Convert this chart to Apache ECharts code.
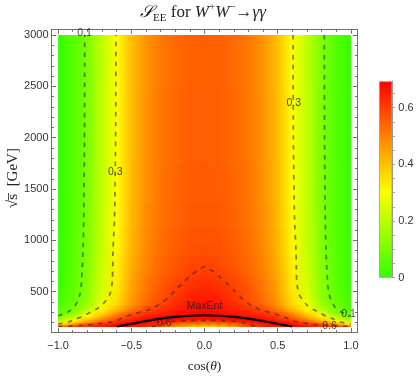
<!DOCTYPE html>
<html>
<head>
<meta charset="utf-8">
<title>S_EE for W+W- to gamma gamma</title>
<script src="https://cdn.jsdelivr.net/npm/echarts@6/dist/echarts.min.js"></script>
<style>
  html, body { margin: 0; padding: 0; background: #fff; }
  #chart { width: 420px; height: 377px; }
</style>
</head>
<body>
<div id="chart"></div>
<script>
// cos(theta) samples for the right half; the left half is the mirror image
const cosHalf = [0, 0.1, 0.2, 0.3, 0.4, 0.5, 0.6, 0.7, 0.8, 0.9, 1.0];

// sqrt(s) rows [GeV]
const sqrtS = [161, 170, 180, 195, 210, 225, 240, 255, 270, 280, 300, 325, 350, 400, 450,
  500, 550, 600, 650, 700, 750, 800, 900, 1000, 1250, 1500, 2000, 3000];

// S_EE, one row per sqrtS entry, columns follow cosHalf
const entropy = [
  [0.350, 0.370, 0.430, 0.520, 0.610, 0.670, 0.693, 0.675, 0.640, 0.610, 0.590],
  [0.390, 0.410, 0.470, 0.560, 0.630, 0.675, 0.692, 0.665, 0.620, 0.580, 0.520],
  [0.430, 0.450, 0.510, 0.600, 0.650, 0.688, 0.690, 0.655, 0.610, 0.540, 0.420],
  [0.500, 0.515, 0.545, 0.610, 0.655, 0.693, 0.668, 0.625, 0.580, 0.450, 0.310],
  [0.560, 0.572, 0.585, 0.645, 0.688, 0.683, 0.635, 0.570, 0.480, 0.370, 0.250],
  [0.610, 0.620, 0.650, 0.680, 0.690, 0.665, 0.610, 0.530, 0.430, 0.320, 0.200],
  [0.655, 0.665, 0.683, 0.693, 0.680, 0.640, 0.585, 0.490, 0.390, 0.270, 0.150],
  [0.680, 0.689, 0.693, 0.682, 0.660, 0.618, 0.555, 0.450, 0.350, 0.230, 0.120],
  [0.693, 0.692, 0.683, 0.668, 0.642, 0.603, 0.530, 0.420, 0.320, 0.190, 0.100],
  [0.692, 0.688, 0.676, 0.659, 0.630, 0.590, 0.515, 0.400, 0.300, 0.170, 0.092],
  [0.687, 0.680, 0.662, 0.640, 0.615, 0.565, 0.470, 0.360, 0.250, 0.120, 0.055],
  [0.682, 0.673, 0.651, 0.626, 0.590, 0.530, 0.432, 0.340, 0.218, 0.110, 0.048],
  [0.676, 0.665, 0.640, 0.612, 0.565, 0.495, 0.395, 0.318, 0.185, 0.100, 0.040],
  [0.665, 0.652, 0.623, 0.585, 0.532, 0.465, 0.362, 0.285, 0.148, 0.080, 0.025],
  [0.655, 0.642, 0.612, 0.574, 0.524, 0.458, 0.352, 0.262, 0.142, 0.071, 0.020],
  [0.645, 0.632, 0.603, 0.566, 0.518, 0.452, 0.343, 0.247, 0.136, 0.067, 0.015],
  [0.634, 0.622, 0.595, 0.561, 0.514, 0.448, 0.339, 0.243, 0.133, 0.065, 0.012],
  [0.624, 0.612, 0.588, 0.556, 0.511, 0.445, 0.336, 0.240, 0.130, 0.063, 0.010],
  [0.613, 0.603, 0.580, 0.549, 0.505, 0.440, 0.333, 0.237, 0.128, 0.061, 0.008],
  [0.603, 0.594, 0.572, 0.543, 0.500, 0.436, 0.330, 0.234, 0.126, 0.060, 0.006],
  [0.595, 0.586, 0.566, 0.538, 0.496, 0.432, 0.327, 0.231, 0.124, 0.059, 0.005],
  [0.587, 0.580, 0.561, 0.534, 0.492, 0.428, 0.325, 0.229, 0.123, 0.058, 0.004],
  [0.577, 0.571, 0.555, 0.529, 0.487, 0.423, 0.320, 0.225, 0.120, 0.056, 0.002],
  [0.570, 0.565, 0.550, 0.525, 0.483, 0.419, 0.316, 0.222, 0.117, 0.054, 0.001],
  [0.562, 0.557, 0.544, 0.520, 0.478, 0.414, 0.311, 0.218, 0.114, 0.052, 0.000],
  [0.557, 0.553, 0.540, 0.516, 0.474, 0.411, 0.308, 0.216, 0.112, 0.051, 0.000],
  [0.553, 0.549, 0.536, 0.513, 0.471, 0.408, 0.305, 0.214, 0.111, 0.050, 0.000],
  [0.550, 0.546, 0.533, 0.510, 0.468, 0.405, 0.303, 0.212, 0.110, 0.050, 0.000]
];

// contour lines, [cos(theta), sqrt(s)], right half only
const contour01 = [[0.818, 3000], [0.82, 2000], [0.825, 1200], [0.83, 900], [0.84, 600], [0.85, 480],
  [0.865, 417], [0.89, 350], [0.93, 305], [0.97, 280], [1.0, 265]];
const contour03 = [[0.605, 3000], [0.607, 2000], [0.615, 1200], [0.625, 900], [0.63, 600], [0.645, 480],
  [0.67, 420], [0.70, 370], [0.74, 330], [0.78, 300], [0.84, 255], [0.88, 235], [0.93, 205], [0.97, 192], [1.0, 186]];
const contour06Outer = [[0, 742], [0.05, 705], [0.1, 650], [0.15, 585], [0.2, 515], [0.25, 440], [0.3, 385],
  [0.35, 345], [0.4, 315], [0.47, 290], [0.55, 250], [0.6, 218], [0.65, 202], [0.75, 183], [0.84, 173],
  [0.92, 166], [1.0, 163]];
const contour06Inner = [[0, 222], [0.12, 218], [0.22, 210], [0.26, 200], [0.29, 185], [0.32, 172], [0.36, 161]];
const maxEntLine = [[0, 271], [0.1, 266], [0.2, 255], [0.3, 238], [0.4, 214], [0.45, 201], [0.5, 188],
  [0.55, 174], [0.6, 161]];

// contour labels
const contourLabels = [
  { value: [-0.82, 3022], name: '0.1' },
  { value: [-0.609, 1662], name: '0.3' },
  { value: [0.61, 2340], name: '0.3' },
  { value: [0, 363], name: 'MaxEnt' },
  { value: [-0.274, 190], name: '0.6' },
  { value: [0.854, 163], name: '0.6' },
  { value: [0.984, 281], name: '0.1' }
];

// tick values
const xMajor = [-1, -0.5, 0, 0.5, 1];
const xMinor = [-0.9, -0.8, -0.7, -0.6, -0.4, -0.3, -0.2, -0.1, 0.1, 0.2, 0.3, 0.4, 0.6, 0.7, 0.8, 0.9];
const yMajor = [500, 1000, 1500, 2000, 2500, 3000];
const yMinor = [200, 300, 400, 600, 700, 800, 900, 1100, 1200, 1300, 1400, 1600, 1700, 1800, 1900,
  2100, 2200, 2300, 2400, 2600, 2700, 2800, 2900];
const barMajor = [0, 0.2, 0.4, 0.6];
const barTicks = [0, 0.05, 0.1, 0.15, 0.2, 0.25, 0.3, 0.35, 0.4, 0.45, 0.5, 0.55, 0.6, 0.65];
const entropyMax = 0.6931;

// green -> yellow -> red, hue 108 deg down to 0
function entropyColor(s) {
  const t = Math.min(Math.max(s / entropyMax, 0), 1);
  const h = 108 * (1 - t);
  let r = 1, g = 1;
  if (h >= 60) r = (120 - h) / 60;
  else g = h / 60;
  return 'rgb(' + Math.round(r * 255) + ',' + Math.round(g * 255) + ',0)';
}

const mirror = (pts) => pts.slice().reverse().map(([c, e]) => [-c, e]);
const cosFull = cosHalf.slice(1).reverse().map((c) => -c).concat(cosHalf);
const rowFull = (row) => row.slice(1).reverse().concat(row);

const chart = echarts.init(document.getElementById('chart'));

const frameColor = '#6e6e6e';
const labelFont = { fontFamily: 'Liberation Sans', fontSize: 11, color: '#333' };

const xAxisBase = { type: 'value', gridIndex: 0, min: -1.045, max: 1.045, splitLine: { show: false } };
const yAxisBase = { type: 'value', gridIndex: 0, min: 101, max: 3056, splitLine: { show: false } };

function tickAxis(base, position, values, len, showLine) {
  return Object.assign({}, base, {
    position: position,
    axisLine: { show: showLine, onZero: false, lineStyle: { color: frameColor, width: 1 } },
    axisTick: { show: true, inside: true, length: len, customValues: values, lineStyle: { color: frameColor } },
    axisLabel: { show: false }
  });
}

const fmtX = (v) => (v < 0 ? '\u2212' : '') + Math.abs(v).toFixed(1);
const fmtY = (v) => String(v);

const option = {
  animation: false,
  grid: [
    { left: 51.5, top: 29.3, width: 306, height: 303.4 },
    { left: 379, top: 81.3, width: 13.3, height: 196.4 }
  ],
  xAxis: [
    Object.assign(tickAxis(xAxisBase, 'bottom', xMajor, 4.5, true), {
      axisLabel: Object.assign({ show: true, customValues: xMajor, formatter: fmtX, margin: 8 }, labelFont)
    }),
    tickAxis(xAxisBase, 'bottom', xMinor, 2.5, false),
    tickAxis(xAxisBase, 'top', xMajor, 4.5, true),
    tickAxis(xAxisBase, 'top', xMinor, 2.5, false),
    { type: 'category', gridIndex: 1, data: ['S'], show: false }
  ],
  yAxis: [
    Object.assign(tickAxis(yAxisBase, 'left', yMajor, 4.5, true), {
      axisLabel: Object.assign({ show: true, customValues: yMajor, formatter: fmtY, margin: 3 }, labelFont)
    }),
    tickAxis(yAxisBase, 'left', yMinor, 2.5, false),
    tickAxis(yAxisBase, 'right', yMajor, 4.5, true),
    tickAxis(yAxisBase, 'right', yMinor, 2.5, false),
    {
      type: 'value', gridIndex: 1, position: 'right', min: 0, max: entropyMax,
      splitLine: { show: false },
      axisLine: { show: true, lineStyle: { color: '#999', width: 1 } },
      axisTick: { show: true, inside: false, length: 2.5, customValues: barTicks, lineStyle: { color: '#999' } },
      axisLabel: Object.assign({
        show: true, customValues: barMajor, margin: 6,
        formatter: (v) => (v === 0 ? '0' : v.toFixed(1))
      }, labelFont)
    }
  ],
  graphic: [
    {
      type: 'text', x: 203, y: 13,
      style: {
        text: '{s|\uD835\uDCAE}{sub|EE}{n| for }{i|W}{sup|+}{i|W}{sup|\u2212}{n|\u2192}{i|\u03B3\u03B3}',
        align: 'center', verticalAlign: 'middle',
        rich: {
          s: { fontFamily: 'DejaVu Serif, Liberation Serif, serif', fontSize: 17, fontStyle: 'italic', lineHeight: 22, fill: '#222' },
          sub: { fontFamily: 'Liberation Serif', fontSize: 11, verticalAlign: 'bottom', lineHeight: 22, fill: '#222' },
          sup: { fontFamily: 'Liberation Serif', fontSize: 11, verticalAlign: 'top', lineHeight: 22, fill: '#222' },
          n: { fontFamily: 'Liberation Serif', fontSize: 17, lineHeight: 22, fill: '#222' },
          i: { fontFamily: 'Liberation Serif', fontSize: 17, fontStyle: 'italic', lineHeight: 22, fill: '#222' }
        }
      }
    },
    {
      type: 'text', x: 204.5, y: 366.5,
      style: {
        text: 'cos({i|\u03B8})', align: 'center', verticalAlign: 'middle',
        fontFamily: 'Liberation Serif', fontSize: 13.5, fill: '#222',
        rich: { i: { fontFamily: 'Liberation Serif', fontSize: 13.5, fontStyle: 'italic', fill: '#222' } }
      }
    },
    {
      type: 'text', x: 13, y: 178, rotation: Math.PI / 2,
      style: {
        text: '\u221As\u0305  [GeV]', align: 'center', verticalAlign: 'middle',
        fontFamily: 'Liberation Serif', fontSize: 15, fill: '#222'
      }
    }
  ],
  series: [
    {
      // colour field, one band per sqrt(s) row, horizontal gradient across cos(theta)
      type: 'custom',
      xAxisIndex: 0,
      yAxisIndex: 0,
      clip: true,
      z: 1,
      silent: true,
      data: sqrtS.map((e, i) => [0, e, i]),
      encode: { x: 0, y: 1 },
      renderItem: (params, api) => {
        const i = api.value(2);
        const lo = i === 0 ? sqrtS[0] : (sqrtS[i - 1] + sqrtS[i]) / 2;
        const hi = i === sqrtS.length - 1 ? sqrtS[i] : (sqrtS[i] + sqrtS[i + 1]) / 2;
        const p0 = api.coord([-1, hi]);
        const p1 = api.coord([1, lo]);
        const vals = rowFull(entropy[i]);
        const stops = cosFull.map((c, k) => ({ offset: (c + 1) / 2, color: entropyColor(vals[k]) }));
        // overlap the band below so no anti-aliased seam shows
        const extra = i === 0 ? 0 : 1;
        return {
          type: 'rect',
          shape: { x: p0[0], y: p0[1], width: p1[0] - p0[0], height: p1[1] - p0[1] + extra },
          style: { fill: new echarts.graphic.LinearGradient(0, 0, 1, 0, stops) }
        };
      }
    },
    ...[
      mirror(contour01), contour01,
      mirror(contour03), contour03,
      mirror(contour06Outer).concat(contour06Outer.slice(1)),
      mirror(contour06Inner).concat(contour06Inner.slice(1))
    ].map((pts) => ({
      type: 'line', xAxisIndex: 0, yAxisIndex: 0, z: 3, silent: true,
      data: pts, symbol: 'none', smooth: 0.25,
      lineStyle: { color: 'rgba(40,40,40,0.6)', width: 1.7, type: [4.5, 5.5] }
    })),
    {
      type: 'line', xAxisIndex: 0, yAxisIndex: 0, z: 4, silent: true,
      data: mirror(maxEntLine).concat(maxEntLine.slice(1)), symbol: 'none', smooth: 0.25,
      lineStyle: { color: '#000', width: 2.2 }
    },
    {
      type: 'scatter', xAxisIndex: 0, yAxisIndex: 0, z: 5, silent: true,
      symbolSize: 0, data: contourLabels,
      label: {
        show: true, position: 'inside', formatter: (p) => p.name,
        fontFamily: 'Liberation Sans', fontSize: 10.5, color: '#1a1a1a'
      }
    },
    {
      // colour bar
      type: 'bar', xAxisIndex: 4, yAxisIndex: 4, z: 2, silent: true,
      barWidth: '100%', data: [entropyMax],
      itemStyle: {
        borderColor: '#999', borderWidth: 0.8,
        color: new echarts.graphic.LinearGradient(0, 0, 0, 1,
          [entropyMax, 0.6, 0.5, 0.4, 0.3, 0.2, 0.1, 0].map((v) => ({ offset: 1 - v / entropyMax, color: entropyColor(v) })))
      }
    }
  ]
};

chart.setOption(option);
</script>
</body>
</html>
